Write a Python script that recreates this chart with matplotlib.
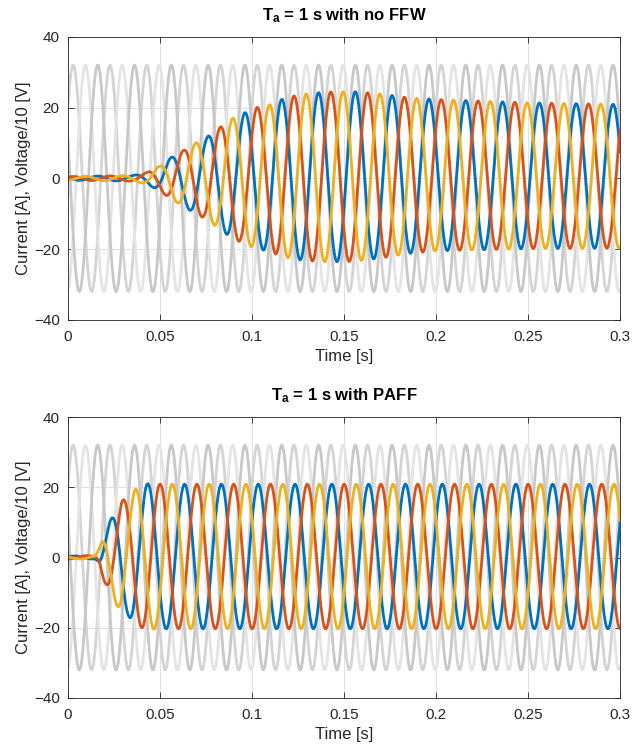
import numpy as np
import matplotlib
matplotlib.use('Agg')
import matplotlib.pyplot as plt

plt.rcParams['font.family'] = ['Liberation Sans', 'DejaVu Sans']
plt.rcParams['mathtext.fontset'] = 'custom'
plt.rcParams['mathtext.rm'] = 'Liberation Sans'
plt.rcParams['mathtext.bf'] = 'Liberation Sans:bold'
plt.rcParams['mathtext.it'] = 'Liberation Sans:italic'

# Grid signal
f_grid = 50.0              # Hz
v_amp = 32.0               # voltage/10 peak
v_phase_deg = [40, -80, 160]   # phase of the three grey voltages at t=0
v_colors = ['#d4d4d4', '#e4e4e4', '#c8c8c8']

# current phases at t=0 (blue, orange, yellow)
i_colors = ['#0072BD', '#D95319', '#EDB120']
top_phase_deg = [160, 40, -80]
bot_phase_deg = [30, -90, 150]

# current amplitude envelope read off the peaks, top plot (no FFW)
top_env_t = [0.0, 0.035, 0.042, 0.05, 0.055, 0.063, 0.069, 0.075, 0.083, 0.089,
             0.095, 0.1025, 0.109, 0.115, 0.122, 0.13, 0.14, 0.155, 0.17, 0.185, 0.2, 0.25, 0.3]
top_env_a = [0.5, 0.8, 1.5, 3.5, 5.6, 8.0, 9.9, 11.5, 14.6, 16.9,
             18.3, 20.0, 20.6, 22.0, 23.0, 23.6, 24.0, 24.0, 23.2, 22.0, 21.4, 20.6, 20.3]
top_off_t = [0.0, 0.1, 0.15, 0.2, 0.3]
top_off_v = [0.0, 0.0, 0.5, 0.9, 0.6]

# bottom plot (PAFF)
bot_env_t = [0.0, 0.015, 0.017, 0.019, 0.023, 0.029, 0.033, 0.036, 0.042, 0.05, 0.3]
bot_env_a = [0.4, 0.5, 2.5, 6.0, 10.5, 16.0, 17.0, 19.0, 20.8, 20.6, 20.6]
bot_off_t = [0.0, 0.05, 0.3]
bot_off_v = [0.0, 0.3, 0.3]

t = np.linspace(0, 0.3, 6001)
w = 2 * np.pi * f_grid


def draw(ax, title, env_t, env_a, off_t, off_v, phases):
    for ph, c in zip(v_phase_deg, v_colors):
        ax.plot(t, v_amp * np.sin(w * t + np.deg2rad(ph)), color=c, lw=2.0)
    env = np.interp(t, env_t, env_a)
    off = np.interp(t, off_t, off_v)
    for ph, c in zip(phases, i_colors):
        ax.plot(t, off + env * np.sin(w * t + np.deg2rad(ph)), color=c, lw=2.0)
    ax.set_xlim(0, 0.3)
    ax.set_ylim(-40, 40)
    ax.set_xticks([0, 0.05, 0.1, 0.15, 0.2, 0.25, 0.3])
    ax.set_xticklabels(['0', '0.05', '0.1', '0.15', '0.2', '0.25', '0.3'])
    ax.set_yticks([-40, -20, 0, 20, 40])
    ax.grid(True, color='#dcdcdc', lw=0.6)
    ax.set_axisbelow(True)
    ax.tick_params(direction='in', top=True, right=True, labelsize=11,
                   colors='#262626', length=4, width=0.6)
    ax.tick_params(axis='x', pad=7)
    ax.tick_params(axis='y', pad=6)
    for s in ax.spines.values():
        s.set_color('#262626')
        s.set_linewidth(0.6)
    ax.set_xlabel('Time [s]', fontsize=12, color='#262626', labelpad=4)
    ax.set_ylabel('Current [A], Voltage/10 [V]', fontsize=12, color='#262626', labelpad=2)
    ax.set_title(title, fontsize=12, fontweight='bold', color='black', pad=12)


fig = plt.figure(figsize=(6.42, 7.51), dpi=100)
ax1 = fig.add_axes([0.106, 0.574, 0.860, 0.377])
ax2 = fig.add_axes([0.106, 0.0706, 0.860, 0.374])

draw(ax1, r'$\mathbf{T_a}$ = 1 s with no FFW', top_env_t, top_env_a, top_off_t, top_off_v, top_phase_deg)
draw(ax2, r'$\mathbf{T_a}$ = 1 s with PAFF', bot_env_t, bot_env_a, bot_off_t, bot_off_v, bot_phase_deg)

fig.savefig('out.png', dpi=100)
